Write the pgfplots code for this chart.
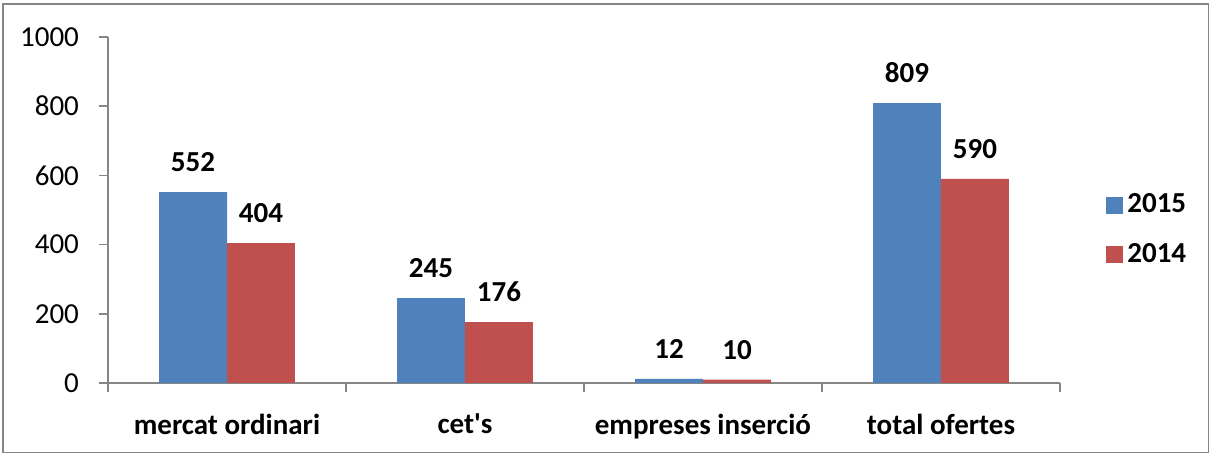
\documentclass[border=0pt]{standalone}
\usepackage{fontspec}
\setmainfont{Carlito}
\usepackage{pgfplots}
\pgfplotsset{compat=1.18}
\definecolor{b15}{HTML}{4F81BD}
\definecolor{r14}{HTML}{C0504D}
\definecolor{ax}{HTML}{868686}
\begin{document}
\fontsize{14.5}{17}\selectfont
\begin{tikzpicture}
\useasboundingbox (0,0) rectangle (606pt,227.5pt);
\draw[color=ax, line width=0.8pt] (1.5pt,1.2pt) rectangle (604.2pt,225.5pt);
\begin{axis}[
  at={(54pt,36pt)}, anchor=south west,
  scale only axis, width=476pt, height=173pt,
  /pgf/number format/assume math mode=true,
  /pgf/number format/set thousands separator={},
  ymin=0, ymax=1000, ytick={0,200,...,1000},
  xmin=-0.5, xmax=3.5,
  axis lines*=left,
  axis line style={color=ax, line width=0.8pt},
  tick align=outside,
  tick style={color=ax, line width=0.8pt},
  major tick length=4.5pt, minor tick length=4.5pt,
  xtick={0,1,2,3},
  xticklabels={mercat ordinari, cet\textquotesingle s, empreses inserció, total ofertes},
  major x tick style={draw=none},
  minor xtick={-0.5,0.5,1.5,2.5,3.5},
  x tick label style={font=\bfseries, yshift=-6pt},
  y tick label style={xshift=-5pt},
  ybar, bar width=0.2857,
  nodes near coords,
  every node near coord/.append style={font=\bfseries, text=black, yshift=5pt},
  legend style={at={(1.042,0.442)}, anchor=west, draw=none, fill=none, font=\bfseries, row sep=9pt},
  legend cell align=left,
  legend image code/.code={\fill[#1] (0pt,-4.25pt) rectangle (8.5pt,4.25pt);},
]
\addplot[fill=b15, draw=none, bar shift=-0.14285] coordinates {(0,552) (1,245) (2,12) (3,809)};
\addplot[fill=r14, draw=none, bar shift=0.14285] coordinates {(0,404) (1,176) (2,10) (3,590)};
\legend{2015,2014}
\end{axis}
\end{tikzpicture}
\end{document}
